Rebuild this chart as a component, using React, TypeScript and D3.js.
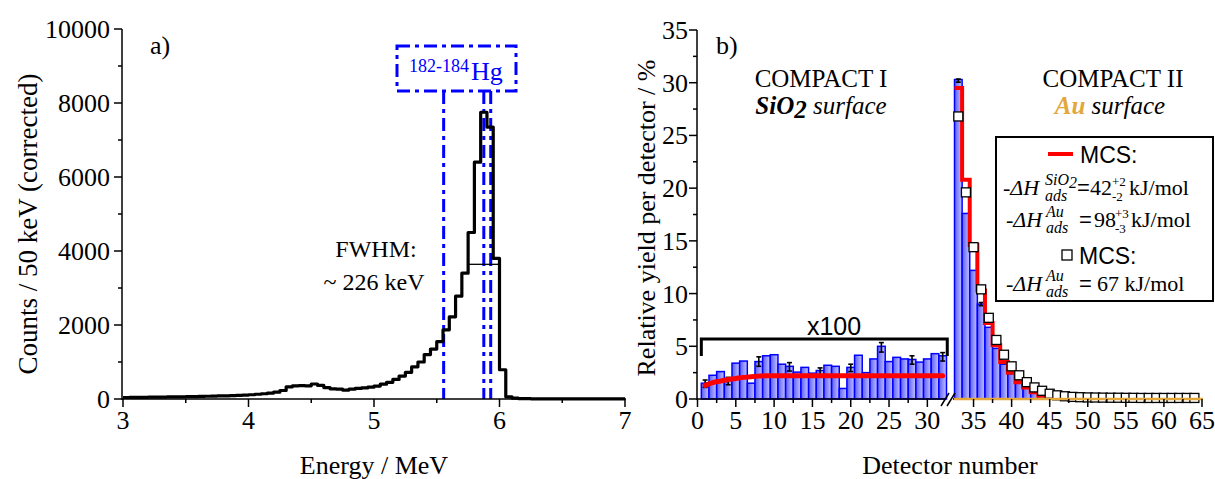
import React from "react";
import * as d3 from "d3";

// ---------- Panel a data ----------
const energyBinStart = 3.0;
const energyBinWidth = 0.05;
const spectrumCounts = [
  40, 42, 44, 46, 48, 50, 52, 55, 57, 60,
  63, 66, 70, 74, 78, 82, 87, 92, 98, 106,
  115, 128, 142, 160, 185, 230, 330, 355, 360, 355,
  405, 370, 310, 275, 265, 240, 265, 285, 300, 320,
  350, 400, 450, 530, 620, 720, 870, 1000, 1200, 1350,
  1550, 1870, 2220, 2780, 3400, 4500, 6400, 7750, 7350, 3800,
  790, 60, 22, 12, 8, 6, 5, 5, 4, 4,
  4, 3, 3, 3, 3, 2, 2, 2, 2, 2,
];
const hgLines = [5.555, 5.875, 5.93];
const fwhmLevel = 3640;
const fwhmRange = [5.75, 5.99];
const energyTicks = [3, 4, 5, 6, 7];
const countTicks = [0, 2000, 4000, 6000, 8000, 10000];

// ---------- Panel b data ----------
const detLeft = [
  1, 2, 3, 4, 5, 6, 7, 8, 9, 10, 11, 12, 13, 14, 15, 16,
  17, 18, 19, 20, 21, 22, 23, 24, 25, 26, 27, 28, 29, 30, 31, 32,
];
const yieldLeftX100 = [
  1.5, 2.25, 2.6, 1.8, 3.4, 3.6, 1.5, 3.55, 4.1, 4.2, 3.3, 3.1, 2.55, 3.0, 2.45, 2.7,
  3.2, 3.1, 1.0, 3.0, 4.15, 2.5, 3.8, 5.0, 3.55, 3.95, 3.8, 3.75, 3.5, 3.8, 4.3, 4.1,
];
const mcsLeftX100 = [
  1.3, 1.55, 1.7, 1.85, 1.95, 2.05, 2.12, 2.17, 2.2, 2.2, 2.2, 2.2, 2.2, 2.2, 2.2, 2.2,
  2.2, 2.2, 2.2, 2.2, 2.2, 2.2, 2.2, 2.2, 2.2, 2.2, 2.2, 2.2, 2.2, 2.2, 2.2, 2.2,
];
const errDet = [1, 4, 8, 12, 16, 20, 24, 28, 32, 33, 36];
const errCenter = [1.45, 1.7, 3.55, 3.05, 2.6, 2.95, 4.9, 3.7, 4.0, 30.2, 9.0];
const errHalf = [0.35, 0.35, 0.45, 0.4, 0.35, 0.35, 0.45, 0.4, 0.4, 0.15, 0.15];

const detRight = [
  33, 34, 35, 36, 37, 38, 39, 40, 41, 42, 43, 44, 45, 46, 47, 48,
  49, 50, 51, 52, 53, 54, 55, 56, 57, 58, 59, 60, 61, 62, 63, 64,
];
const yieldRight = [
  30.3, 17.6, 12.2, 9.0, 6.8, 4.8, 3.3, 2.4, 1.7, 1.2, 0.8, 0.5, 0.3, 0.15, 0, 0,
  0, 0, 0, 0, 0, 0, 0, 0, 0, 0, 0, 0, 0, 0, 0, 0,
];
const mcsRedRight = [
  29.5, 20.8, 14.6, 10.3, 7.2, 5.1, 3.5, 2.5, 1.6, 1.1, 0.65, 0.3, 0.1,
];
const mcsSquares = [
  26.8, 19.6, 14.4, 10.4, 7.7, 5.6, 4.2, 3.1, 2.25, 1.6, 1.1, 0.78, 0.5, 0.35, 0.26, 0.2,
  0.17, 0.15, 0.14, 0.13, 0.12, 0.12, 0.11, 0.11, 0.1, 0.1, 0.1, 0.1, 0.1, 0.1, 0.1, 0.1,
];
const detTicksLeft = [0, 5, 10, 15, 20, 25, 30];
const detTicksRight = [35, 40, 45, 50, 55, 60, 65];
const yieldTicks = [0, 5, 10, 15, 20, 25, 30, 35];

const SERIF = "'Liberation Serif', 'Times New Roman', Times, serif";
const SANS = "'Liberation Sans', Arial, Helvetica, sans-serif";
const BLUE = "#0000ff";
const GOLD = "#e3a73a";

export default function App() {
  const xA = d3.scaleLinear().domain([3, 7]).range([123, 625]);
  const yA = d3.scaleLinear().domain([0, 10000]).range([399, 29]);
  const pts: [number, number][] = spectrumCounts.map((v, i) => [energyBinStart + i * energyBinWidth, v]);
  pts.push([7, spectrumCounts[spectrumCounts.length - 1]]);
  const specLine = d3
    .line<[number, number]>()
    .x((d) => xA(d[0]))
    .y((d) => yA(d[1]))
    .curve(d3.curveStepAfter)(pts) as string;

  const xL = d3.scaleLinear().domain([0, 32.5]).range([697.5, 946.5]);
  const xR = d3.scaleLinear().domain([32.5, 65]).range([954.5, 1202]);
  const xB = (d: number) => (d <= 32.5 ? xL(d) : xR(d));
  const yB = d3.scaleLinear().domain([0, 35]).range([399, 30]);

  const redLeft = d3
    .line<number>()
    .x((_, i) => xL(detLeft[i]))
    .y((v) => yB(v))
    .curve(d3.curveMonotoneX)(mcsLeftX100) as string;

  const redRightPts: [number, number][] = mcsRedRight.map((v, i) => [detRight[i] - 0.5, v]);
  redRightPts.push([detRight[mcsRedRight.length - 1] + 0.5, mcsRedRight[mcsRedRight.length - 1]]);
  const redRight = d3
    .line<[number, number]>()
    .x((d) => xR(d[0]))
    .y((d) => yB(d[1]))
    .curve(d3.curveStepAfter)(redRightPts) as string;

  const minorA_x = d3.range(3.5, 7, 1);
  const minorA_y = d3.range(1000, 10000, 2000);
  const minorB_y = d3.range(2.5, 35, 5);
  const minorB_xL = [2.5, 7.5, 12.5, 17.5, 22.5, 27.5];
  const minorB_xR = [37.5, 42.5, 47.5, 52.5, 57.5, 62.5];

  const serif = { fontFamily: SERIF };
  const sans = { fontFamily: SANS };

  return (
    <svg
      width={1215}
      height={479}
      style={{ position: "absolute", left: 0, top: 0, background: "#fff", fontFamily: SERIF }}
    >
      <defs>
        <linearGradient id="barGrad" x1="0" x2="1" y1="0" y2="0">
          <stop offset="0" stopColor="#5c5cff" />
          <stop offset="1" stopColor="#c4c4ff" />
        </linearGradient>
      </defs>

      {/* ================= Panel a ================= */}
      <g style={serif}>
        {hgLines.map((e, i) => (
          <line
            key={i}
            x1={xA(e)}
            x2={xA(e)}
            y1={91}
            y2={399}
            stroke={BLUE}
            strokeWidth={3}
            strokeDasharray="13,5,4,5"
          />
        ))}
        <rect x={397} y={46} width={119} height={45} fill="none" stroke={BLUE} strokeWidth={3} strokeDasharray="13,5,4,5" />
        <text fill={BLUE}>
          <tspan x={409} y={72} fontSize={18}>182-184</tspan>
          <tspan x={471} y={80} fontSize={26}>Hg</tspan>
        </text>

        <path d={specLine} fill="none" stroke="#000" strokeWidth={3.2} strokeLinejoin="round" />
        <line x1={xA(fwhmRange[0])} x2={xA(fwhmRange[1])} y1={yA(fwhmLevel)} y2={yA(fwhmLevel)} stroke="#000" strokeWidth={1.3} />

        <line x1={122} x2={122} y1={29} y2={400} stroke="#000" strokeWidth={1.5} />
        <line x1={122} x2={626} y1={399} y2={399} stroke="#000" strokeWidth={1.5} />
        {countTicks.map((t) => (
          <g key={t}>
            <line x1={114} x2={122} y1={yA(t)} y2={yA(t)} stroke="#000" strokeWidth={1.5} />
            <text x={110} y={yA(t) + 9} textAnchor="end" fontSize={26}>{t}</text>
          </g>
        ))}
        {minorA_y.map((t) => (
          <line key={t} x1={118} x2={122} y1={yA(t)} y2={yA(t)} stroke="#000" strokeWidth={1.5} />
        ))}
        {energyTicks.map((t) => (
          <g key={t}>
            <line x1={xA(t)} x2={xA(t)} y1={399} y2={407} stroke="#000" strokeWidth={1.5} />
            <text x={xA(t)} y={429} textAnchor="middle" fontSize={26}>{t}</text>
          </g>
        ))}
        {minorA_x.map((t) => (
          <line key={t} x1={xA(t)} x2={xA(t)} y1={399} y2={403} stroke="#000" strokeWidth={1.5} />
        ))}
        <text x={374} y={474} textAnchor="middle" fontSize={26}>Energy / MeV</text>
        <text transform="translate(37,224) rotate(-90)" textAnchor="middle" fontSize={27}>
          Counts / 50 keV (corrected)
        </text>
        <text x={150} y={54} fontSize={26}>a)</text>
        <text x={376} y={257} textAnchor="middle" fontSize={24}>FWHM:</text>
        <text x={374} y={290} textAnchor="middle" fontSize={24}>~ 226 keV</text>
      </g>

      {/* ================= Panel b ================= */}
      <g style={serif}>
        {detLeft.map((d, i) => (
          <rect
            key={d}
            x={xL(d - 0.5)}
            y={yB(yieldLeftX100[i])}
            width={xL(d + 0.5) - xL(d - 0.5)}
            height={yB(0) - yB(yieldLeftX100[i])}
            fill="url(#barGrad)"
            stroke={BLUE}
            strokeWidth={1.5}
          />
        ))}
        {detRight.map((d, i) =>
          yieldRight[i] > 0 ? (
            <rect
              key={d}
              x={xR(d - 0.5)}
              y={yB(yieldRight[i])}
              width={xR(d + 0.5) - xR(d - 0.5)}
              height={yB(0) - yB(yieldRight[i])}
              fill="url(#barGrad)"
              stroke={BLUE}
              strokeWidth={1.5}
            />
          ) : null
        )}
        {errDet.map((d, i) => (
          <g key={d} stroke="#000" strokeWidth={1.6}>
            <line x1={xB(d)} x2={xB(d)} y1={yB(errCenter[i] - errHalf[i])} y2={yB(errCenter[i] + errHalf[i])} />
            <line x1={xB(d) - 2.5} x2={xB(d) + 2.5} y1={yB(errCenter[i] - errHalf[i])} y2={yB(errCenter[i] - errHalf[i])} />
            <line x1={xB(d) - 2.5} x2={xB(d) + 2.5} y1={yB(errCenter[i] + errHalf[i])} y2={yB(errCenter[i] + errHalf[i])} />
          </g>
        ))}
        <path d={redLeft} fill="none" stroke="#ff0000" strokeWidth={5} strokeLinecap="round" />
        <path d={redRight} fill="none" stroke="#ff0000" strokeWidth={4} />
        {detRight.map((d, i) => (
          <rect
            key={d}
            x={xR(d) - 4.5}
            y={yB(mcsSquares[i]) - 4.5}
            width={9}
            height={9}
            fill="#fff"
            stroke="#000"
            strokeWidth={1.3}
          />
        ))}

        <path d={`M${xL(0.5)},356 V339 H${xL(32.6)} V356`} fill="none" stroke="#000" strokeWidth={3} />
        <text x={834} y={335} textAnchor="middle" fontSize={25} style={sans}>x100</text>

        <line x1={697} x2={697} y1={30} y2={400} stroke="#000" strokeWidth={1.5} />
        <line x1={697} x2={946} y1={399} y2={399} stroke="#000" strokeWidth={1.5} />
        <line x1={953} x2={1203} y1={399} y2={399} stroke="#000" strokeWidth={1.5} />
        <line x1={954} x2={1203} y1={399} y2={399} stroke={GOLD} strokeWidth={2.5} />
        <line x1={941} x2={949} y1={406} y2={393} stroke="#000" strokeWidth={1.5} />
        <line x1={947} x2={955} y1={406} y2={393} stroke="#000" strokeWidth={1.5} />
        {yieldTicks.map((t) => (
          <g key={t}>
            <line x1={689} x2={697} y1={yB(t)} y2={yB(t)} stroke="#000" strokeWidth={1.5} />
            <text x={688} y={yB(t) + 9} textAnchor="end" fontSize={26}>{t}</text>
          </g>
        ))}
        {minorB_y.map((t) => (
          <line key={t} x1={693} x2={697} y1={yB(t)} y2={yB(t)} stroke="#000" strokeWidth={1.5} />
        ))}
        {detTicksLeft.map((t) => (
          <g key={t}>
            <line x1={xL(t)} x2={xL(t)} y1={399} y2={407} stroke="#000" strokeWidth={1.5} />
            <text x={xL(t)} y={429} textAnchor="middle" fontSize={26}>{t}</text>
          </g>
        ))}
        {detTicksRight.map((t) => (
          <g key={t}>
            <line x1={xR(t)} x2={xR(t)} y1={399} y2={407} stroke="#000" strokeWidth={1.5} />
            <text x={xR(t)} y={429} textAnchor="middle" fontSize={26}>{t}</text>
          </g>
        ))}
        {minorB_xL.map((t) => (
          <line key={t} x1={xL(t)} x2={xL(t)} y1={399} y2={403} stroke="#000" strokeWidth={1.5} />
        ))}
        {minorB_xR.map((t) => (
          <line key={t} x1={xR(t)} x2={xR(t)} y1={399} y2={403} stroke="#000" strokeWidth={1.5} />
        ))}
        <text x={950} y={474} textAnchor="middle" fontSize={26}>Detector number</text>
        <text transform="translate(655,218) rotate(-90)" textAnchor="middle" fontSize={26}>
          Relative yield per detector / %
        </text>
        <text x={716} y={54} fontSize={26}>b)</text>

        <text x={821} y={87} textAnchor="middle" fontSize={25}>COMPACT I</text>
        <text x={821} y={114} textAnchor="middle" fontSize={25}>
          <tspan fontWeight="bold" fontStyle="italic">SiO</tspan>
          <tspan fontWeight="bold" fontStyle="italic" dy={4}>2</tspan>
          <tspan fontStyle="italic" dy={-4}> surface</tspan>
        </text>
        <text x={1113} y={87} textAnchor="middle" fontSize={25}>COMPACT II</text>
        <text x={1110} y={114} textAnchor="middle" fontSize={25}>
          <tspan fontWeight="bold" fontStyle="italic" fill={GOLD}>Au</tspan>
          <tspan fontStyle="italic"> surface</tspan>
        </text>

        <rect x={996} y={137} width={217} height={164} fill="#fff" stroke="#000" strokeWidth={2} />
        <line x1={1048} x2={1073} y1={154} y2={154} stroke="#ff0000" strokeWidth={4} />
        <text x={1080} y={163} fontSize={23} style={sans}>MCS:</text>

        <text fontSize={22}>
          <tspan x={1003} y={195} fontStyle="italic">-ΔH</tspan>
          <tspan x={1045} y={185} fontSize={16} fontStyle="italic">SiO</tspan>
          <tspan fontSize={16} fontStyle="italic" dy={3}>2</tspan>
          <tspan x={1045} y={201} fontSize={16} fontStyle="italic">ads</tspan>
          <tspan x={1077} y={195} style={sans}>=</tspan>
          <tspan x={1090} y={195}>42</tspan>
          <tspan x={1112} y={186} fontSize={13}>+2</tspan>
          <tspan x={1112} y={201} fontSize={13}>-2</tspan>
          <tspan x={1129} y={195}>kJ/mol</tspan>
        </text>

        <text fontSize={22}>
          <tspan x={1006} y={227} fontStyle="italic">-ΔH</tspan>
          <tspan x={1046} y={217} fontSize={16} fontStyle="italic">Au</tspan>
          <tspan x={1046} y={233} fontSize={16} fontStyle="italic">ads</tspan>
          <tspan x={1079} y={227} style={sans}>=</tspan>
          <tspan x={1094} y={227}>98</tspan>
          <tspan x={1115} y={218} fontSize={13}>+3</tspan>
          <tspan x={1115} y={233} fontSize={13}>-3</tspan>
          <tspan x={1131} y={227}>kJ/mol</tspan>
        </text>

        <rect x={1062} y={250} width={10} height={10} fill="#fff" stroke="#000" strokeWidth={1.3} />
        <text x={1079} y={264} fontSize={23} style={sans}>MCS:</text>

        <text fontSize={22}>
          <tspan x={1006} y={291} fontStyle="italic">-ΔH</tspan>
          <tspan x={1046} y={281} fontSize={16} fontStyle="italic">Au</tspan>
          <tspan x={1046} y={297} fontSize={16} fontStyle="italic">ads</tspan>
          <tspan x={1079} y={291} style={sans}>=</tspan>
          <tspan x={1097} y={291}>67 kJ/mol</tspan>
        </text>
      </g>
    </svg>
  );
}
